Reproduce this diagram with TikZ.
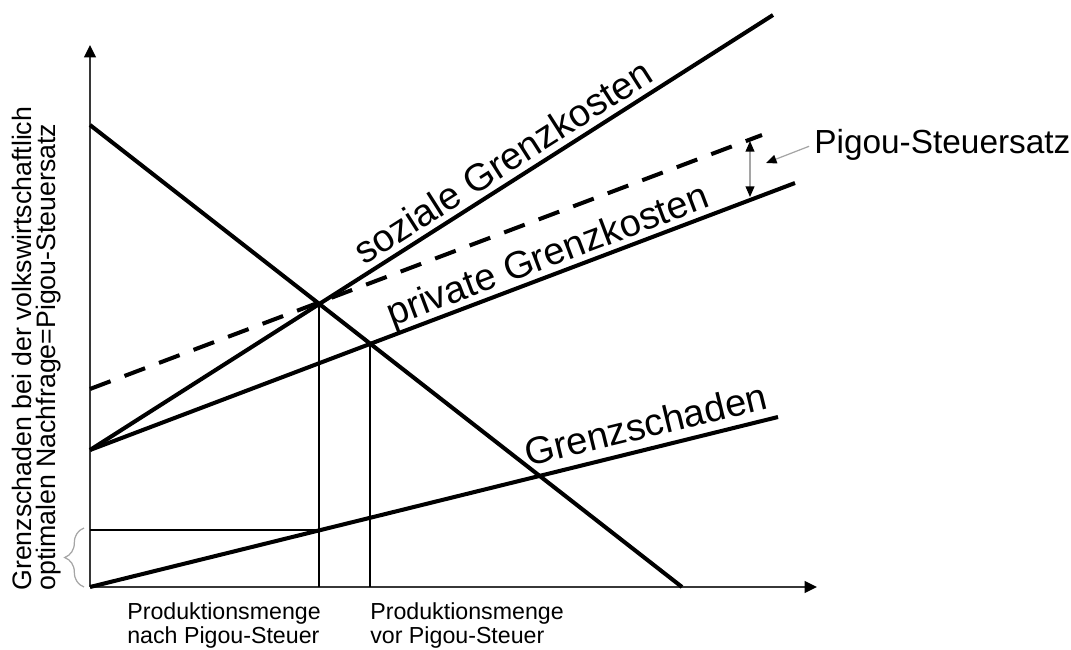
\documentclass[tikz,border=0pt]{standalone}
\usepackage{fontspec}
\setmainfont{Liberation Sans}
\usetikzlibrary{arrows.meta,decorations.pathreplacing,calc}
\definecolor{axisgray}{RGB}{55,55,55}
\definecolor{markgray}{RGB}{165,165,165}

\begin{document}
\begin{tikzpicture}[
  x=0.02cm, y=-0.02cm,
  every node/.style={inner sep=0pt, text=black},
  curve/.style={line width=2.3pt, black},
  taxcurve/.style={curve, dash pattern=on 12.5pt off 8.5pt},
  axis/.style={line width=1.3pt, color=axisgray, -{Triangle[length=7pt,width=6.5pt,color=black]}},
  guide/.style={line width=1.1pt, black},
  note/.style={line width=0.7pt, color=markgray},
  curvelabel/.style={font=\fontsize{21.7}{26}\selectfont, anchor=base west},
  qlabel/.style={font=\fontsize{13.2}{13.8}\selectfont, align=left, anchor=north west}
]
  \useasboundingbox (0,0) rectangle (1071,649);

  % axes and curve end points (pixel grid, y downwards)
  \coordinate (O) at (90,587);
  \coordinate (ytop) at (90,45);
  \coordinate (xend) at (817,587);
  \coordinate (dem0) at (90,125);
  \coordinate (dem1) at (682,587);
  \coordinate (mc0) at (90,450);
  \coordinate (smc1) at (773,15);
  \coordinate (pmc1) at (795,183);
  \coordinate (tax0) at (90,389);
  \coordinate (tax1) at (762,135);
  \coordinate (dam1) at (778,417);
  \coordinate (opt) at (intersection of dem0--dem1 and mc0--smc1);
  \coordinate (mkt) at (intersection of dem0--dem1 and mc0--pmc1);
  \coordinate (optfoot) at (opt |- O);
  \coordinate (damopt) at (intersection of O--dam1 and opt--optfoot);
  \coordinate (gaptop) at (750,141);
  \coordinate (gapbot) at (750,197);
  \coordinate (ptr) at (766,163);

  \draw[axis] (O) -- (ytop);
  \draw[axis] (O) -- (xend);

  \draw[guide] (opt) -- (optfoot);
  \draw[guide] (mkt) -- (mkt |- O);
  \draw[guide] (damopt -| O) -- (damopt);

  \foreach \f/\t in {dem0/dem1,mc0/smc1,mc0/pmc1,O/dam1} {
    \draw[curve] (\f) -- (\t);
  }
  \draw[taxcurve] (tax0) -- (tax1);

  \draw[note, {Triangle[length=6pt,width=5pt,color=black]}-{Triangle[length=6pt,width=5pt,color=black]}] (gaptop) -- (gapbot);
  \draw[note, decorate, decoration={brace, amplitude=11pt}] (84,587) -- (84,528);

  \node[curvelabel, rotate=32.5] (smclbl) at (364,266) {soziale Grenzkosten};
  \node[curvelabel, rotate=20.7] (pmclbl) at (392,327) {private Grenzkosten};
  \node[curvelabel, rotate=13.7] (damlbl) at (528,467) {Grenzschaden};
  \node[font=\fontsize{19}{22}\selectfont, anchor=base west] (pigou) at (814,153) {Pigou-Steuersatz};
  \draw[note, shorten <=3pt, -{Triangle[length=6pt,width=5pt,color=black]}] (pigou.west) -- (ptr);

  \node[font=\fontsize{15.2}{13.8}\selectfont, align=left, rotate=90, anchor=north west] (ylbl) at (12,591)
    {Grenzschaden bei der volkswirtschaftlich\\optimalen Nachfrage=Pigou-Steuersatz};
  \node[qlabel] (qopt) at (127,602) {Produktionsmenge\\nach Pigou-Steuer};
  \node[qlabel] (qmkt) at (370,602) {Produktionsmenge\\vor Pigou-Steuer};
\end{tikzpicture}
\end{document}
